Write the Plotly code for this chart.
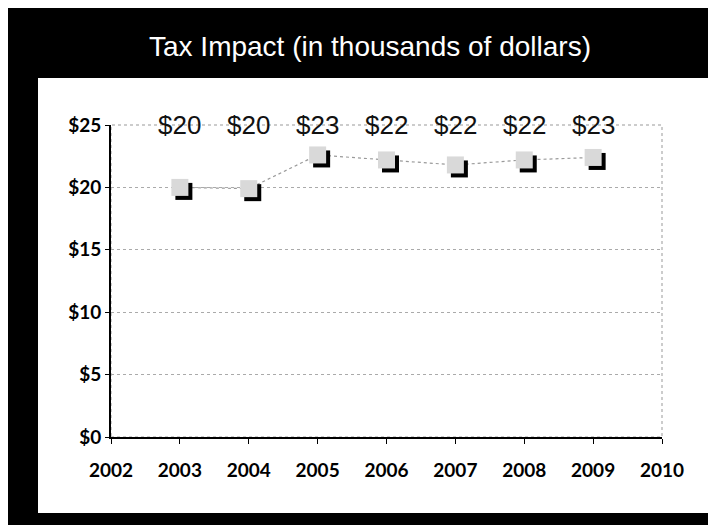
import plotly.graph_objects as go

years = [2003, 2004, 2005, 2006, 2007, 2008, 2009]
impact = [20.0, 19.9, 22.6, 22.2, 21.8, 22.2, 22.4]
labels = ["$20", "$20", "$23", "$22", "$22", "$22", "$23"]
x_ticks = [2002, 2003, 2004, 2005, 2006, 2007, 2008, 2009, 2010]
y_ticks = [0, 5, 10, 15, 20, 25]
y_tick_text = ["$0", "$5", "$10", "$15", "$20", "$25"]
title_text = "Tax Impact (in thousands of dollars)"

W, H = 716, 525
ML, MR, MT, MB = 103, 62, 117, 96
xr = [2002, 2010]
yr = [0, 25]
pw = W - ML - MR
ph = H - MT - MB
# pixel offset of the marker shadow converted through the axis scales
dx = 4 * (xr[1] - xr[0]) / pw
dy = 4 * (yr[1] - yr[0]) / ph

hand = "Liberation Sans Narrow, Liberation Sans, sans-serif"
tickf = dict(family="Lato, sans-serif", size=19, color="black", weight="bold")

fig = go.Figure()
fig.add_trace(go.Scatter(
    x=years, y=impact, mode="lines",
    line=dict(color="#9a9a9a", width=1.2, dash="dot"),
    hoverinfo="skip", showlegend=False))
fig.add_trace(go.Scatter(
    x=[v + dx for v in years], y=[v - dy for v in impact], mode="markers",
    marker=dict(symbol="square", size=17, color="#000000", line=dict(width=0)),
    hoverinfo="skip", showlegend=False))
fig.add_trace(go.Scatter(
    x=years, y=impact, mode="markers",
    marker=dict(symbol="square", size=17, color="#d9d9d9", line=dict(width=0)),
    showlegend=False))

for x, t in zip(years, labels):
    fig.add_annotation(x=x, y=yr[1], xref="x", yref="y", text=t, showarrow=False,
                       yanchor="middle", yshift=0,
                       font=dict(family=hand, size=26, color="#111111"))

# white panel on black frame
fig.add_shape(type="rect", xref="paper", yref="paper", layer="below",
              x0=(30 - ML) / pw, x1=(705 - ML) / pw,
              y0=(H - MB - 505) / ph, y1=(H - MB - 70) / ph,
              fillcolor="white", line=dict(width=0))
# dotted plot-area border
fig.add_shape(type="rect", xref="paper", yref="paper", layer="below",
              x0=0, x1=1, y0=0, y1=1,
              line=dict(color="#999999", width=1, dash="dot"))

fig.add_annotation(x=(362 - ML) / pw, y=(H - MB - 38) / ph, xref="paper", yref="paper",
                   text=title_text, showarrow=False, xanchor="center", yanchor="middle",
                   font=dict(family=hand, size=28, color="white"))

fig.update_layout(
    width=W, height=H,
    margin=dict(l=ML, r=MR, t=MT, b=MB, pad=0),
    paper_bgcolor="black", plot_bgcolor="rgba(0,0,0,0)",
    showlegend=False,
    xaxis=dict(range=xr, tickvals=x_ticks, ticktext=[str(v) for v in x_ticks],
               showgrid=False, zeroline=False, showline=True, linecolor="black",
               linewidth=2, ticks="outside", ticklen=5, tickcolor="black",
               ticklabelstandoff=10, tickfont=tickf),
    yaxis=dict(range=yr, tickvals=y_ticks, ticktext=y_tick_text,
               showgrid=True, gridcolor="#aaaaaa", griddash="dot", gridwidth=1,
               zeroline=False, showline=True, linecolor="black", linewidth=2,
               ticks="outside", ticklen=4, tickcolor="black", tickfont=tickf),
)

fig.write_html("out.html")
